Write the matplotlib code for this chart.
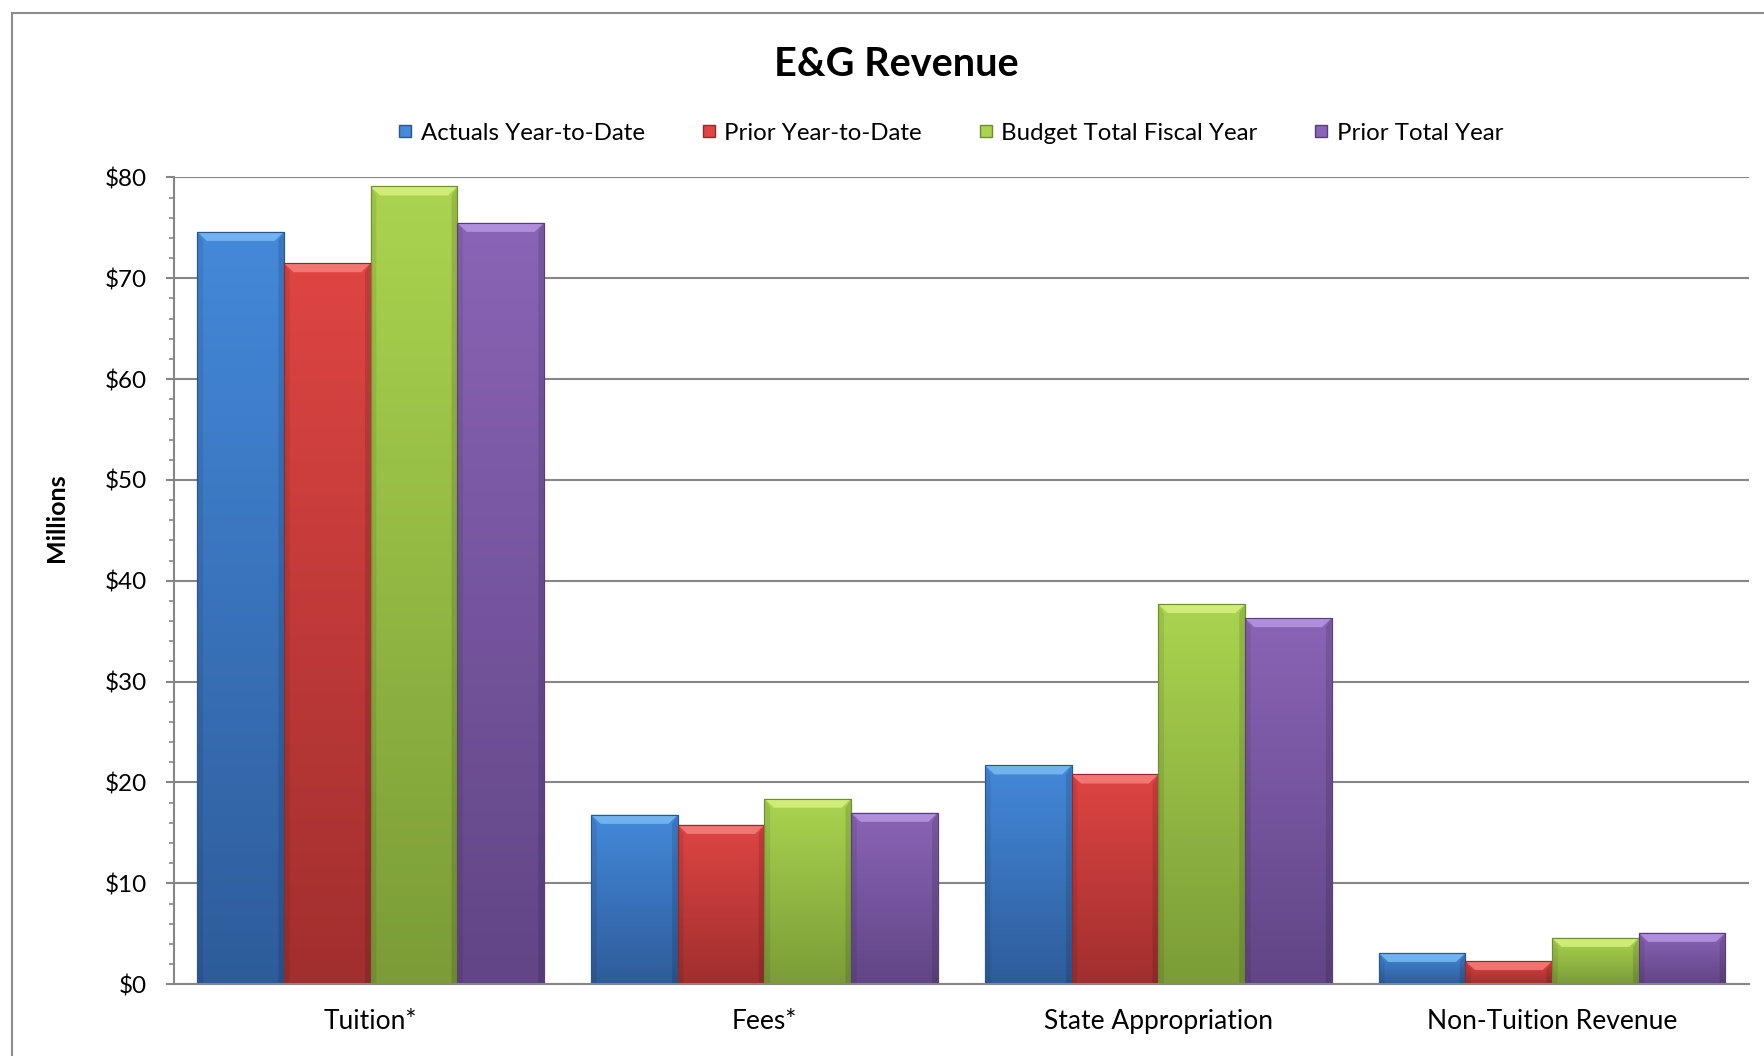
import numpy as np
import matplotlib
matplotlib.use("Agg")
import matplotlib.pyplot as plt
from matplotlib.colors import LinearSegmentedColormap
from matplotlib.patches import Polygon, Rectangle
from matplotlib.lines import Line2D

plt.rcParams['font.family'] = ['Lato', 'DejaVu Sans']

categories = ["Tuition*", "Fees*", "State Appropriation", "Non-Tuition Revenue"]
series_names = ["Actuals Year-to-Date", "Prior Year-to-Date", "Budget Total Fiscal Year", "Prior Total Year"]
actuals_ytd = [74.6, 16.8, 21.7, 3.1]
prior_ytd = [71.5, 15.8, 20.8, 2.3]
budget_total = [79.1, 18.4, 37.7, 4.6]
prior_total = [75.5, 17.0, 36.3, 5.1]
yticks = [0, 10, 20, 30, 40, 50, 60, 70, 80]
ytick_labels = ["$0", "$10", "$20", "$30", "$40", "$50", "$60", "$70", "$80"]

series = [actuals_ytd, prior_ytd, budget_total, prior_total]
top_cols = ["#4489DA", "#DE4543", "#AAD44F", "#8A64B6"]
bot_cols = ["#2E5C9A", "#A02F2E", "#7B9C37", "#614585"]
bevel_cols = ["#79BBF2", "#F57F7C", "#D6F27E", "#B896E4"]
edge_cols = ["#2A5590", "#8E2A29", "#6E8C31", "#57407A"]

fig = plt.figure(figsize=(17.64, 10.56), dpi=100)
ax = fig.add_axes([0.0985, 0.068, 0.893, 0.764])

# figure border
fig.patches.append(Rectangle((0.0068, -0.05), 1.2, 0.9877 + 0.05, transform=fig.transFigure,
                             fill=False, edgecolor="#8C8C8C", linewidth=1.5, zorder=0))

x = np.arange(len(categories))
w = 0.22
offsets = (np.arange(4) - 1.5) * w

ax.set_xlim(-0.5, len(categories) - 0.5)
ax.set_ylim(0, 80)

for i, vals in enumerate(series):
    bars = ax.bar(x + offsets[i], vals, width=w, color=top_cols[i], edgecolor=edge_cols[i],
                  linewidth=0.8, zorder=3, label=series_names[i])
    cmap = LinearSegmentedColormap.from_list("g%d" % i, [bot_cols[i], top_cols[i]])
    grad = np.linspace(0, 1, 256).reshape(-1, 1)
    for b in bars:
        x0, y0 = b.get_x(), b.get_y()
        bw, bh = b.get_width(), b.get_height()
        im = ax.imshow(grad, extent=[x0, x0 + bw, y0, y0 + bh], origin="lower",
                       cmap=cmap, aspect="auto", zorder=3.1, interpolation="bilinear")
        im.set_clip_path(b)
        # top bevel
        dy = min(0.9, bh * 0.5)
        dx = 0.024
        bev = Polygon([(x0, y0 + bh), (x0 + bw, y0 + bh), (x0 + bw - dx, y0 + bh - dy), (x0 + dx, y0 + bh - dy)],
                      closed=True, facecolor=bevel_cols[i], edgecolor="none", alpha=0.85, zorder=3.2)
        ax.add_patch(bev)
        # side shading
        ax.add_patch(Polygon([(x0, y0), (x0, y0 + bh), (x0 + dx * 0.6, y0 + bh - dy), (x0 + dx * 0.6, y0)],
                             closed=True, facecolor="black", alpha=0.08, edgecolor="none", zorder=3.2))
        ax.add_patch(Polygon([(x0 + bw, y0), (x0 + bw, y0 + bh), (x0 + bw - dx * 0.6, y0 + bh - dy), (x0 + bw - dx * 0.6, y0)],
                             closed=True, facecolor="black", alpha=0.12, edgecolor="none", zorder=3.2))
        ax.add_patch(Rectangle((x0, y0), bw, bh, fill=False, edgecolor=edge_cols[i], linewidth=0.8, zorder=3.3))

ax.set_yticks(yticks)
ax.set_yticklabels(ytick_labels, fontsize=17.5)
ax.set_yticks(np.arange(0, 81, 2), minor=True)
ax.set_xticks(x)
ax.set_xticklabels(categories, fontsize=19)
ax.tick_params(axis="x", length=0, pad=18)
ax.tick_params(axis="y", which="major", direction="out", length=6, width=1.5, color="#868686", pad=13.5)
ax.tick_params(axis="y", which="minor", direction="out", length=3.5, width=1.2, color="#868686")
ax.grid(axis="y", which="major", color="#868686", linewidth=1.5, zorder=1)
ax.set_axisbelow(True)
for s in ["top", "right"]:
    ax.spines[s].set_visible(False)
for s in ["left", "bottom"]:
    ax.spines[s].set_color("#868686")
    ax.spines[s].set_linewidth(1.5)
ax.spines["bottom"].set_zorder(4)

fig.text(0.032, 0.51, "Millions", rotation=90, fontsize=18, fontweight="bold",
         ha="center", va="center")
fig.text(0.508, 0.939, "E&G Revenue", fontsize=28.5, fontweight="bold", ha="center", va="center")

handles = [Line2D([0], [0], marker="s", linestyle="none", markersize=9,
                  markerfacecolor=top_cols[i], markeredgecolor=edge_cols[i]) for i in range(4)]
fig.legend(handles, series_names, loc="center", bbox_to_anchor=(0.5387, 0.874), ncol=4,
           frameon=False, fontsize=17.3, handlelength=0.7, handletextpad=0.3, columnspacing=2.3)

fig.savefig("out.png", dpi=100, facecolor="white")
